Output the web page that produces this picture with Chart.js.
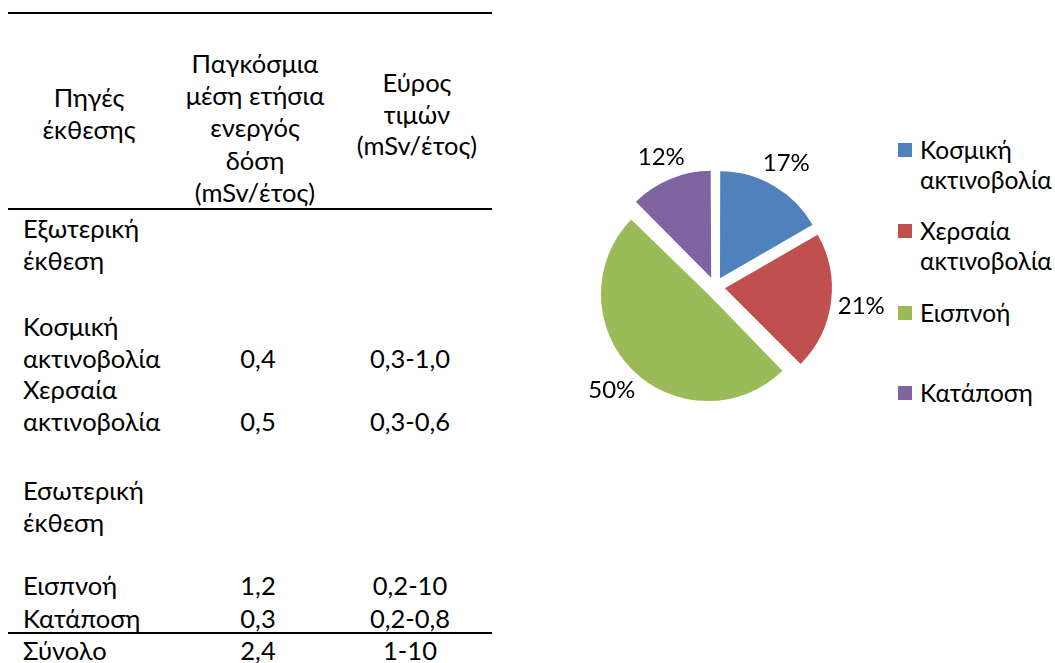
<!DOCTYPE html>
<html lang="el">
<head>
<meta charset="utf-8">
<title>Πηγές έκθεσης σε ακτινοβολία</title>
<script src="https://cdn.jsdelivr.net/npm/chart.js@4.4.1/dist/chart.umd.min.js"></script>
<style>
  html, body { margin: 0; padding: 0; background: #fff; }
  body {
    width: 1055px; height: 663px; position: relative; overflow: hidden;
    font-family: Lato, "Open Sans", "Noto Sans", sans-serif; color: #000;
  }
  .t { position: absolute; font-size: 25.5px; line-height: 26px; height: 26px; white-space: nowrap; }
  .rule { position: absolute; left: 8px; width: 484px; height: 2px; background: #000; }
  #pieBox { position: absolute; left: 535px; top: 107px; width: 360px; height: 360px; }
  .leg { position: absolute; left: 898px; width: 157px; font-size: 24.5px; line-height: 30px; }
  .leg i { position: absolute; left: 0; top: 8px; width: 14px; height: 14px; }
  .leg span { display: block; margin-left: 22px; }
</style>
</head>
<body>
<div id="sheet"></div>
<div id="pieBox"><canvas id="pie" width="360" height="360"></canvas></div>
<div id="legend"></div>

<script>
// ---- data ----
const headerSource = ['Πηγές', 'έκθεσης'];
const headerDose = ['Παγκόσμια', 'μέση ετήσια', 'ενεργός', 'δόση', '(mSv/έτος)'];
const headerRange = ['Εύρος', 'τιμών', '(mSv/έτος)'];

const groups = ['Εξωτερική έκθεση', 'Εσωτερική έκθεση'];
const sources = ['Κοσμική ακτινοβολία', 'Χερσαία ακτινοβολία', 'Εισπνοή', 'Κατάποση'];
const doses = [0.4, 0.5, 1.2, 0.3];          // mSv/έτος
const ranges = ['0,3-1,0', '0,3-0,6', '0,2-10', '0,2-0,8'];
const totalLabel = 'Σύνολο';
const totalRange = '1-10';

const colors = ['#4F81BD', '#C0504D', '#9BBB59', '#8064A2'];

// ---- helpers ----
const fmt = v => v.toFixed(1).replace('.', ',');
const sheet = document.getElementById('sheet');

function put(text, x, yc, align) {
  const d = document.createElement('div');
  d.className = 't';
  d.textContent = text;
  d.style.top = (yc - 13) + 'px';
  if (align === 'center') {
    d.style.left = (x - 150) + 'px';
    d.style.width = '300px';
    d.style.textAlign = 'center';
  } else {
    d.style.left = x + 'px';
  }
  sheet.appendChild(d);
}
function lines(list, x, y0, step, align) {
  list.forEach((s, k) => put(s, x, y0 + k * step, align));
}
function rule(y) {
  const r = document.createElement('div');
  r.className = 'rule';
  r.style.top = (y - 1) + 'px';
  sheet.appendChild(r);
}

// ---- table ----
const COL1 = 23, COL2 = 256, COL3 = 414;
const STEP = 31.5;

rule(13);
lines(headerSource, 89, 97, STEP, 'center');
lines(headerDose, 255, 63, 32.2, 'center');
lines(headerRange, 417, 82, STEP, 'center');
rule(209);

// first-line centre of each body block
const blocks = [
  { label: groups[0], y: 228 },
  { label: sources[0], y: 326, dose: doses[0], range: ranges[0] },
  { label: sources[1], y: 389, dose: doses[1], range: ranges[1] },
  { label: groups[1], y: 490 },
  { label: sources[2], y: 585, dose: doses[2], range: ranges[2] },
  { label: sources[3], y: 618, dose: doses[3], range: ranges[3] }
];
blocks.forEach(b => {
  const parts = b.label.split(' ');
  lines(parts, COL1, b.y, STEP, 'left');
  if (b.dose !== undefined) {
    const yl = b.y + (parts.length - 1) * STEP;
    put(fmt(b.dose), COL2 + 2, yl, 'center');
    put(b.range, COL3 - 4, yl, 'center');
  }
});
rule(633);
const total = doses.reduce((a, b) => a + b, 0);
put(totalLabel, COL1, 650, 'left');
put(fmt(total), COL2 + 2, 650, 'center');
put(totalRange, COL3 - 4, 650, 'center');

// ---- legend ----
const legend = document.getElementById('legend');
const legendTop = [143, 224, 306, 386];
sources.forEach((s, i) => {
  const d = document.createElement('div');
  d.className = 'leg';
  d.style.top = (legendTop[i] - 8) + 'px';
  d.innerHTML = '<i style="background:' + colors[i] + '"></i><span></span>';
  d.querySelector('span').textContent = s;
  legend.appendChild(d);
});

// ---- percentage labels (round half to even) ----
function pct(v) {
  const x = v / total * 100;
  const f = Math.floor(x);
  if (Math.abs(x - f - 0.5) < 1e-9) return (f % 2 === 0 ? f : f + 1) + '%';
  return Math.round(x) + '%';
}

// Exploded slices: keep every slice at the same radius while the library
// shifts each one outward along its bisector.
const EXPLODE = 40;
const evenRadius = {
  id: 'evenRadius',
  beforeDatasetDraw(chart, args) {
    const ctrl = args.meta.controller;
    args.meta.data.forEach(el => {
      const off = EXPLODE / 4;
      const fix = 1 - Math.sin(Math.min(Math.PI, el.circumference));
      el.outerRadius = ctrl.outerRadius - off * fix;
    });
  }
};

// Percentages outside each slice; the label box sits just beyond the rim.
const sliceLabels = {
  id: 'sliceLabels',
  afterDatasetsDraw(chart) {
    const meta = chart.getDatasetMeta(0);
    const ctx = chart.ctx;
    ctx.save();
    ctx.font = '24px Lato, "Open Sans", sans-serif';
    ctx.fillStyle = '#000';
    ctx.textAlign = 'center';
    ctx.textBaseline = 'middle';
    meta.data.forEach((el, i) => {
      const txt = pct(doses[i]);
      const mid = (el.startAngle + el.endAngle) / 2;
      const cx = Math.cos(mid), cy = Math.sin(mid);
      const hw = ctx.measureText(txt).width / 2, hh = 9;
      const r = meta.controller.outerRadius + 16 + Math.abs(cx) * hw + Math.abs(cy) * hh;
      ctx.fillText(txt, el.x + cx * r, el.y + cy * r);
    });
    ctx.restore();
  }
};

new Chart(document.getElementById('pie'), {
  type: 'pie',
  data: {
    labels: sources,
    datasets: [{
      data: doses,
      backgroundColor: colors,
      borderWidth: 0,
      offset: EXPLODE
    }]
  },
  options: {
    responsive: false,
    animation: false,
    events: [],
    radius: 107,
    layout: { padding: 0 },
    plugins: { legend: { display: false }, tooltip: { enabled: false } }
  },
  plugins: [evenRadius, sliceLabels]
});
</script>
</body>
</html>
